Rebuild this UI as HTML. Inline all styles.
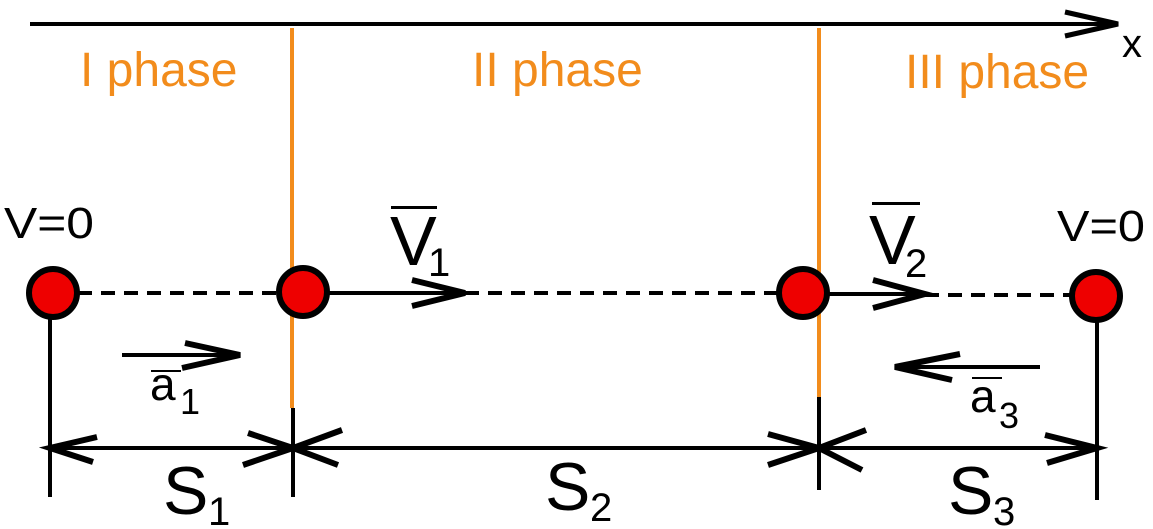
<!DOCTYPE html>
<html><head><style>body{margin:0;background:#fff}svg{display:block}</style></head><body>
<svg width="1153" height="529" viewBox="0 0 1153 529" xmlns="http://www.w3.org/2000/svg" font-family="Liberation Sans, sans-serif">
<g stroke="#000" stroke-width="4" fill="none" stroke-linecap="butt">
<line x1="30" y1="24" x2="1115" y2="24"/>
<polyline points="1065,12 1118,24 1065,36" stroke-width="5"/>
</g>
<text x="1122" y="57" font-size="40">x</text>
<g fill="#f28c1c" font-size="48">
<text x="80" y="86">I phase</text>
<text x="472" y="86">II phase</text>
<text x="905" y="88">III phase</text>
</g>
<g stroke="#f28c1c" stroke-width="4">
<line x1="292" y1="28" x2="292" y2="408"/>
<line x1="819" y1="28" x2="819" y2="397"/>
</g>
<g stroke="#000" stroke-width="4" fill="none">
<line x1="50" y1="318" x2="50" y2="497"/>
<line x1="293" y1="408" x2="293" y2="497"/>
<line x1="819" y1="397" x2="819" y2="490"/>
<line x1="1097" y1="320" x2="1097" y2="500"/>
<line x1="50" y1="448" x2="1097" y2="448"/>
<line x1="78" y1="293" x2="280" y2="293" stroke-dasharray="14,9"/>
<line x1="465" y1="293" x2="780" y2="293" stroke-dasharray="14,9"/>
<line x1="925" y1="295" x2="1072" y2="295" stroke-dasharray="14,9"/>
<line x1="327" y1="293" x2="463" y2="293"/>
<line x1="828" y1="294" x2="923" y2="294"/>
<line x1="122" y1="355" x2="238" y2="355"/>
<line x1="1040" y1="367" x2="897" y2="367"/>
</g>
<g stroke="#000" stroke-width="6" fill="none">
<polyline points="412,280 465,293 412,306"/>
<polyline points="873,280 925,294 873,308"/>
<polyline points="185,343 240,355 182,368"/>
<polyline points="960,354 895,367 952,380"/>
<polyline points="97,437 50,448 93,462"/>
<polyline points="243,465 293,448 248,433"/>
<polyline points="342,430 293,448 338,465"/>
<polyline points="768,465 819,448 768,434"/>
<polyline points="866,430 819,448 862,470"/>
<polyline points="1045,435 1097,448 1047,463"/>
</g>
<g fill="#ee0000" stroke="#000" stroke-width="6">
<circle cx="53" cy="293" r="24"/>
<circle cx="303" cy="292" r="24"/>
<circle cx="803" cy="293" r="24"/>
<circle cx="1096" cy="296" r="24"/>
</g>
<g fill="#000">
<text x="4" y="238" font-size="44" textLength="90" lengthAdjust="spacingAndGlyphs">V=0</text>
<text x="1057" y="241" font-size="44" textLength="88" lengthAdjust="spacingAndGlyphs">V=0</text>
<text x="390" y="265" font-size="70">V</text><text x="428" y="276" font-size="40">1</text>
<rect x="391" y="206" width="46" height="3"/>
<text x="869" y="264" font-size="70">V</text><text x="905" y="277" font-size="40">2</text>
<rect x="872" y="202" width="48" height="3"/>
<text x="150" y="400" font-size="46">a</text><text x="180" y="414" font-size="36">1</text>
<rect x="151" y="370" width="30" height="2"/>
<text x="970" y="412" font-size="46">a</text><text x="999" y="428" font-size="36">3</text>
<rect x="972" y="377" width="30" height="2"/>
<text x="163" y="514" font-size="68">S</text><text x="208" y="525" font-size="40">1</text>
<text x="545" y="510" font-size="68">S</text><text x="590" y="521" font-size="40">2</text>
<text x="948" y="514" font-size="68">S</text><text x="993" y="525" font-size="40">3</text>
</g>
</svg>
</body></html>
